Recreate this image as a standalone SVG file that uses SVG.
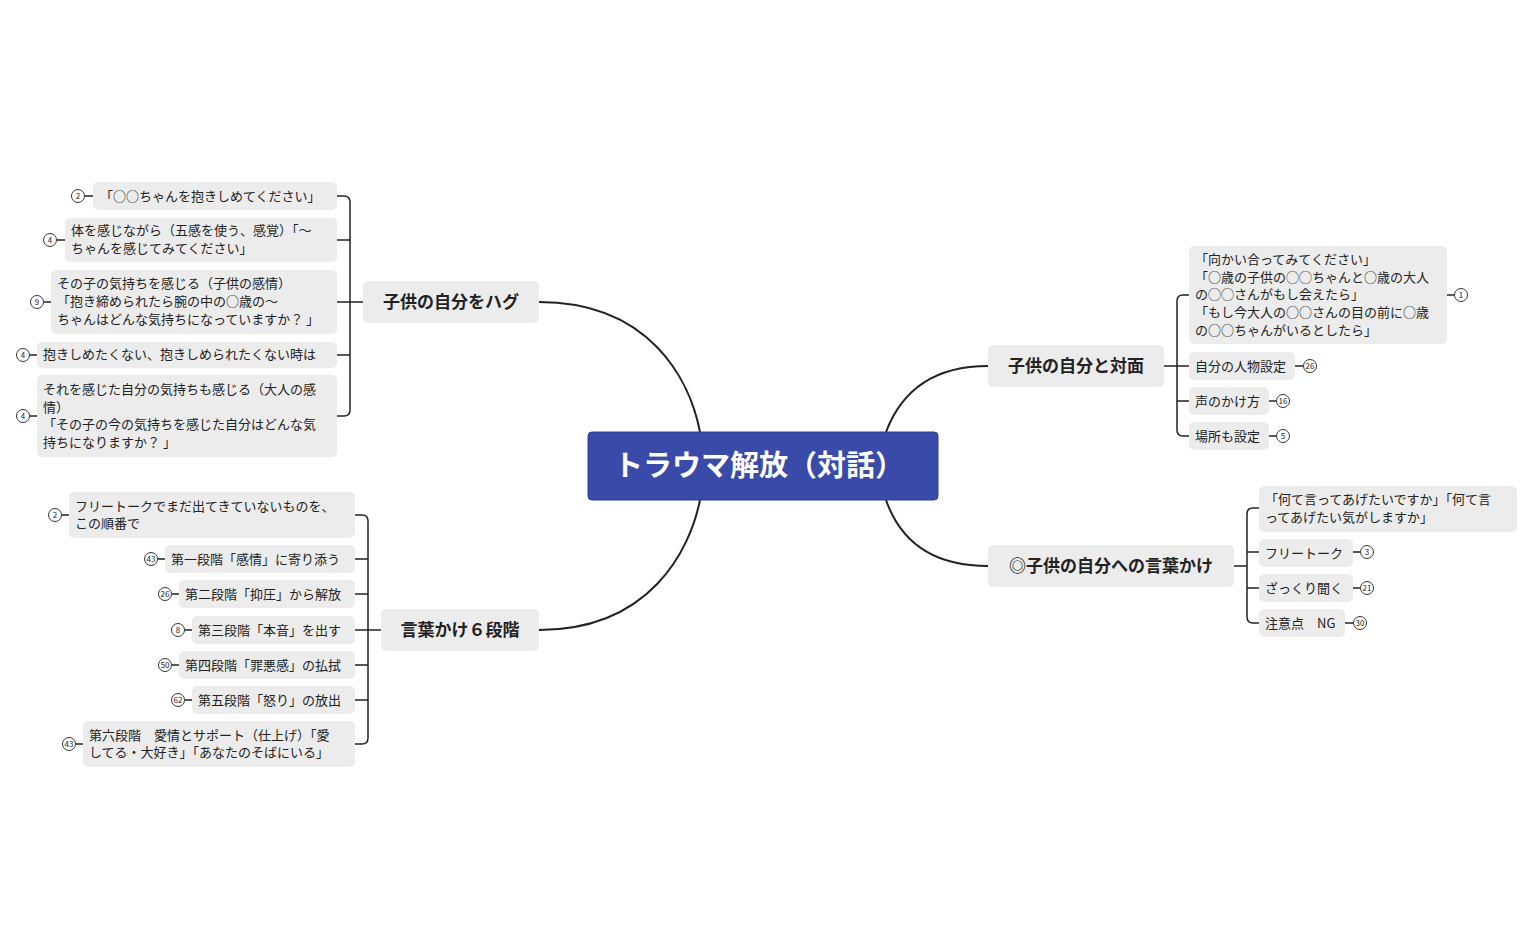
<svg xmlns="http://www.w3.org/2000/svg" width="1534" height="950" viewBox="0 0 1534 950">
<style>
text{font-family:"Noto Sans CJK JP","Liberation Sans",sans-serif;fill:#222}
.leaf rect{fill:#ececec}
.leaf text{font-size:13px}
.main rect{fill:#ececec}
.main text{font-size:17px;font-weight:bold;text-anchor:middle}
.b circle{fill:#fff;stroke:#333;stroke-width:1}
.b text{font-size:8px;text-anchor:middle}
.c path{fill:none;stroke:#222;stroke-width:2}
.c .t{stroke-width:1.5}
</style>
<rect width="1534" height="950" fill="#fff"/>
<g class="c">
<path d="M700 432 C690 380 650 302 539 302"/>
<path d="M700 500 C690 550 650 630 539 630"/>
<path d="M886 432 C900 395 930 366 988 366"/>
<path d="M886 500 C900 540 930 566 988 566"/>
<path class="t" d="M363 302 H350 M337 196 H344 Q350 196 350 202 V410 Q350 416 344 416 H337 M337 240 H350 M337 302 H350 M337 355 H350"/>
<path class="t" d="M381 630 H368 M355 515 H362 Q368 515 368 521 V738 Q368 744 362 744 H355 M355 559 H368 M355 594 H368 M355 630 H368 M355 665 H368 M355 700 H368"/>
<path class="t" d="M1164 366 H1177 M1189 295 H1183 Q1177 295 1177 301 V430 Q1177 436 1183 436 H1189 M1177 366 H1189 M1177 401 H1189"/>
<path class="t" d="M1234 566 H1247 M1259 508 H1253 Q1247 508 1247 514 V617 Q1247 623 1253 623 H1259 M1247 552 H1259 M1247 588 H1259"/>
<path class="t" d="M85 196 H93 M57 240 H65 M44 302 H51 M30 355 H37 M30 416 H37 M62 515 H69 M158 559 H165 M172 594 H179 M185 630 H192 M172 665 H179 M185 700 H192 M76 744 H83 M1447 295 H1454 M1295 366 H1303 M1269 401 H1276 M1269 436 H1276 M1353 552 H1360 M1353 588 H1360 M1345 623 H1353"/>
</g>
<g id="center"><rect x="588" y="432" width="350" height="68" rx="4" fill="#3a4aa8" stroke="#2e3c95"/><text x="759" y="476" font-size="29" font-weight="bold" text-anchor="middle" style="fill:#fff">トラウマ解放（対話）</text></g>
<g id="n-hug" class="main"><rect x="363" y="281" width="176" height="42" rx="5"/><text x="451" y="308">子供の自分をハグ</text></g>
<g id="n-six" class="main"><rect x="381" y="609" width="158" height="42" rx="5"/><text x="460" y="636">言葉かけ６段階</text></g>
<g id="n-face" class="main"><rect x="988" y="345" width="176" height="42" rx="5"/><text x="1076" y="372">子供の自分と対面</text></g>
<g id="n-talk" class="main"><rect x="988" y="545" width="246" height="42" rx="5"/><text x="1111" y="572">◎子供の自分への言葉かけ</text></g>

<g id="h1" class="leaf"><rect x="93" y="182" width="244" height="28" rx="5"/><text x="100" y="201">「○○ちゃんを抱きしめてください」</text></g>
<g id="h2" class="leaf"><rect x="65" y="218" width="272" height="44" rx="5"/><text x="71" y="235">体を感じながら（五感を使う、感覚）「～</text><text x="71" y="253">ちゃんを感じてみてください」</text></g>
<g id="h3" class="leaf"><rect x="51" y="270" width="286" height="64" rx="5"/><text x="57" y="288">その子の気持ちを感じる（子供の感情）</text><text x="57" y="306">「抱き締められたら腕の中の○歳の～</text><text x="57" y="324">ちゃんはどんな気持ちになっていますか？ 」</text></g>
<g id="h4" class="leaf"><rect x="37" y="342" width="300" height="26" rx="5"/><text x="43" y="359">抱きしめたくない、抱きしめられたくない時は</text></g>
<g id="h5" class="leaf"><rect x="37" y="375" width="300" height="82" rx="5"/><text x="43" y="394">それを感じた自分の気持ちも感じる（大人の感</text><text x="43" y="412">情）</text><text x="43" y="429">「その子の今の気持ちを感じた自分はどんな気</text><text x="43" y="447">持ちになりますか？ 」</text></g>

<g id="s1" class="leaf"><rect x="69" y="492" width="286" height="46" rx="5"/><text x="75" y="511">フリートークでまだ出てきていないものを、</text><text x="75" y="528">この順番で</text></g>
<g id="s2" class="leaf"><rect x="165" y="545" width="190" height="28" rx="5"/><text x="171" y="564">第一段階「感情」に寄り添う</text></g>
<g id="s3" class="leaf"><rect x="179" y="580" width="176" height="28" rx="5"/><text x="185" y="599">第二段階「抑圧」から解放</text></g>
<g id="s4" class="leaf"><rect x="192" y="616" width="163" height="28" rx="5"/><text x="198" y="635">第三段階「本音」を出す</text></g>
<g id="s5" class="leaf"><rect x="179" y="651" width="176" height="28" rx="5"/><text x="185" y="670">第四段階「罪悪感」の払拭</text></g>
<g id="s6" class="leaf"><rect x="192" y="686" width="163" height="28" rx="5"/><text x="198" y="705">第五段階「怒り」の放出</text></g>
<g id="s7" class="leaf"><rect x="83" y="721" width="272" height="46" rx="5"/><text x="89" y="740">第六段階　愛情とサポート（仕上げ）「愛</text><text x="89" y="757">してる・大好き」「あなたのそばにいる」</text></g>

<g id="f1" class="leaf"><rect x="1189" y="246" width="258" height="98" rx="5"/><text x="1195" y="264">「向かい合ってみてください」</text><text x="1195" y="282">「○歳の子供の◯◯ちゃんと○歳の大人</text><text x="1195" y="299">の◯◯さんがもし会えたら」</text><text x="1195" y="317">「もし今大人の○○さんの目の前に○歳</text><text x="1195" y="335">の○○ちゃんがいるとしたら」</text></g>
<g id="f2" class="leaf"><rect x="1189" y="352" width="106" height="28" rx="5"/><text x="1195" y="371">自分の人物設定</text></g>
<g id="f3" class="leaf"><rect x="1189" y="387" width="80" height="28" rx="5"/><text x="1195" y="406">声のかけ方</text></g>
<g id="f4" class="leaf"><rect x="1189" y="422" width="80" height="28" rx="5"/><text x="1195" y="441">場所も設定</text></g>

<g id="t1" class="leaf"><rect x="1259" y="486" width="258" height="46" rx="5"/><text x="1265" y="504">「何て言ってあげたいですか」「何て言</text><text x="1265" y="522">ってあげたい気がしますか」</text></g>
<g id="t2" class="leaf"><rect x="1259" y="539" width="94" height="28" rx="5"/><text x="1265" y="558">フリートーク</text></g>
<g id="t3" class="leaf"><rect x="1259" y="574" width="94" height="28" rx="5"/><text x="1265" y="593">ざっくり聞く</text></g>
<g id="t4" class="leaf"><rect x="1259" y="609" width="86" height="28" rx="5"/><text x="1265" y="628">注意点　NG</text></g>

<g id="badges" class="b">
<g><circle cx="78" cy="196" r="6.5"/><text x="78" y="199">2</text></g>
<g><circle cx="50" cy="240" r="6.5"/><text x="50" y="243">4</text></g>
<g><circle cx="37" cy="302" r="6.5"/><text x="37" y="305">9</text></g>
<g><circle cx="23" cy="355" r="6.5"/><text x="23" y="358">4</text></g>
<g><circle cx="23" cy="416" r="6.5"/><text x="23" y="419">4</text></g>
<g><circle cx="55" cy="515" r="6.5"/><text x="55" y="518">2</text></g>
<g><circle cx="151" cy="559" r="6.5"/><text x="151" y="562">43</text></g>
<g><circle cx="165" cy="594" r="6.5"/><text x="165" y="597">26</text></g>
<g><circle cx="178" cy="630" r="6.5"/><text x="178" y="633">8</text></g>
<g><circle cx="165" cy="665" r="6.5"/><text x="165" y="668">50</text></g>
<g><circle cx="178" cy="700" r="6.5"/><text x="178" y="703">62</text></g>
<g><circle cx="69" cy="744" r="6.5"/><text x="69" y="747">43</text></g>
<g><circle cx="1461" cy="295" r="6.5"/><text x="1461" y="298">1</text></g>
<g><circle cx="1310" cy="366" r="6.5"/><text x="1310" y="369">26</text></g>
<g><circle cx="1283" cy="401" r="6.5"/><text x="1283" y="404">16</text></g>
<g><circle cx="1283" cy="436" r="6.5"/><text x="1283" y="439">5</text></g>
<g><circle cx="1367" cy="552" r="6.5"/><text x="1367" y="555">3</text></g>
<g><circle cx="1367" cy="588" r="6.5"/><text x="1367" y="591">21</text></g>
<g><circle cx="1360" cy="623" r="6.5"/><text x="1360" y="626">30</text></g>
</g>
</svg>
